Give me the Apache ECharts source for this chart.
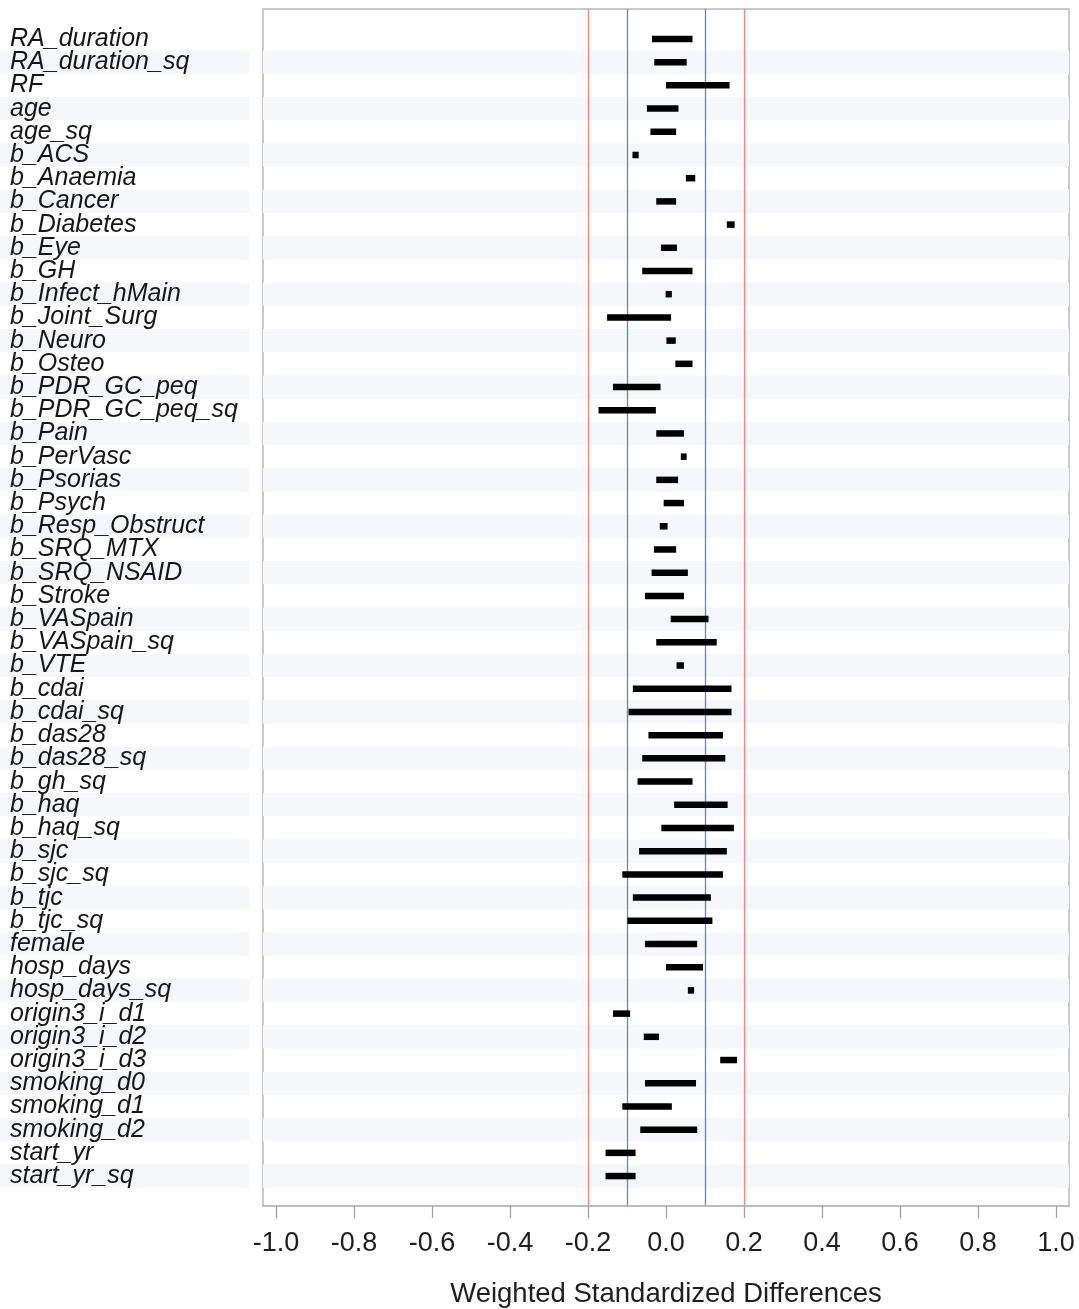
<!DOCTYPE html>
<html>
<head>
<meta charset="utf-8">
<title>Weighted Standardized Differences</title>
<script src="https://cdn.jsdelivr.net/npm/echarts@6/dist/echarts.min.js"></script>
<style>
  html, body { margin: 0; padding: 0; background: #ffffff; }
  #chart { width: 1079px; height: 1309px; }
</style>
</head>
<body>
<div id="chart"></div>
<script>
// Covariates, one row each (top to bottom)
const categories = [
  'RA_duration', 'RA_duration_sq', 'RF', 'age', 'age_sq', 'b_ACS', 'b_Anaemia',
  'b_Cancer', 'b_Diabetes', 'b_Eye', 'b_GH', 'b_Infect_hMain', 'b_Joint_Surg',
  'b_Neuro', 'b_Osteo', 'b_PDR_GC_peq', 'b_PDR_GC_peq_sq', 'b_Pain', 'b_PerVasc',
  'b_Psorias', 'b_Psych', 'b_Resp_Obstruct', 'b_SRQ_MTX', 'b_SRQ_NSAID', 'b_Stroke',
  'b_VASpain', 'b_VASpain_sq', 'b_VTE', 'b_cdai', 'b_cdai_sq', 'b_das28',
  'b_das28_sq', 'b_gh_sq', 'b_haq', 'b_haq_sq', 'b_sjc', 'b_sjc_sq', 'b_tjc',
  'b_tjc_sq', 'female', 'hosp_days', 'hosp_days_sq', 'origin3_i_d1',
  'origin3_i_d2', 'origin3_i_d3', 'smoking_d0', 'smoking_d1', 'smoking_d2',
  'start_yr', 'start_yr_sq'
];

// Lower end of each range of weighted standardized differences
const lowValues = [
  -0.036, -0.030, 0.000, -0.049, -0.040, -0.086, 0.051,
  -0.025, 0.156, -0.013, -0.061, -0.001, -0.151,
  0.001, 0.024, -0.136, -0.173, -0.025, 0.038,
  -0.025, -0.006, -0.016, -0.031, -0.037, -0.054,
  0.012, -0.025, 0.027, -0.085, -0.096, -0.045,
  -0.061, -0.073, 0.021, -0.012, -0.069, -0.112, -0.085,
  -0.099, -0.054, 0.000, 0.056, -0.136,
  -0.057, 0.139, -0.054, -0.112, -0.066,
  -0.155, -0.155
];

// Upper end of each range
const highValues = [
  0.068, 0.053, 0.163, 0.032, 0.026, -0.070, 0.075,
  0.026, 0.176, 0.028, 0.068, 0.015, 0.013,
  0.025, 0.068, -0.014, -0.026, 0.046, 0.053,
  0.031, 0.046, 0.004, 0.026, 0.056, 0.046,
  0.109, 0.130, 0.046, 0.168, 0.168, 0.146,
  0.152, 0.068, 0.158, 0.174, 0.156, 0.146, 0.115,
  0.119, 0.080, 0.095, 0.072, -0.092,
  -0.018, 0.182, 0.077, 0.015, 0.080,
  -0.078, -0.078
];

// Tick labels on the x axis
const xTicks = [-1.0, -0.8, -0.6, -0.4, -0.2, 0.0, 0.2, 0.4, 0.6, 0.8, 1.0];

// Threshold reference lines
const redLines = [-0.2, 0.2];
const blueLines = [-0.1, 0.1];

const rowIndex = categories.map((_, i) => i);
const rangeData = categories.map((c, i) => [lowValues[i], highValues[i], i]);
const bandData = rowIndex.filter(i => i % 2 === 1).map(i => [i]);
const labelData = rowIndex.map(i => [i]);

const X_PAD = 1 / 30;
const Y_PAD = 1.29;
const LABEL_X = 10;

const chart = echarts.init(document.getElementById('chart'), null, { renderer: 'canvas' });

chart.setOption({
  backgroundColor: '#ffffff',
  animation: false,
  grid: {
    left: 263, right: 10, top: 9, bottom: 103,
    outerBoundsMode: 'none',
    containLabel: false,
    show: true, borderColor: '#b8b8b8', borderWidth: 1.5, backgroundColor: 'transparent', z: 0
  },
  xAxis: {
    type: 'value',
    min: -1 - X_PAD,
    max: 1 + X_PAD,
    position: 'bottom',
    z: 6,
    splitLine: { show: false },
    axisLine: { show: true, onZero: false, lineStyle: { color: '#b8b8b8', width: 1.5 } },
    axisTick: { show: true, customValues: xTicks, length: 12, lineStyle: { color: '#a0a0a0', width: 1.3 } },
    axisLabel: {
      customValues: xTicks,
      formatter: v => v.toFixed(1),
      fontFamily: 'Liberation Sans, Arial, sans-serif',
      fontSize: 27,
      color: '#1e1e1e',
      margin: 24
    },
    name: 'Weighted Standardized Differences',
    nameLocation: 'middle',
    nameGap: 74,
    nameTextStyle: {
      fontFamily: 'Liberation Sans, Arial, sans-serif',
      fontSize: 27.5,
      color: '#1e1e1e'
    }
  },
  yAxis: {
    type: 'value',
    inverse: true,
    min: -Y_PAD,
    max: categories.length - 1 + Y_PAD,
    splitLine: { show: false },
    axisLine: { show: false, onZero: false },
    axisTick: { show: false },
    axisLabel: { show: false }
  },
  series: [
    {
      // alternating row shading across the label column and the plot
      type: 'custom',
      z: 1,
      silent: true,
      clip: false,
      data: bandData,
      encode: { y: 0 },
      renderItem: (params, api) => {
        const i = api.value(0);
        const top = api.coord([0, i - 0.5])[1];
        const bottom = api.coord([0, i + 0.5])[1];
        const cs = params.coordSys;
        const style = { fill: '#f6f7fa' };
        return {
          type: 'group',
          children: [
            { type: 'rect', shape: { x: 0, y: top, width: 249, height: bottom - top }, style },
            { type: 'rect', shape: { x: cs.x, y: top, width: cs.width, height: bottom - top }, style }
          ]
        };
      }
    },
    {
      // covariate names in the left column
      type: 'custom',
      z: 6,
      silent: true,
      clip: false,
      data: labelData,
      encode: { y: 0 },
      renderItem: (params, api) => {
        const i = api.value(0);
        const y = api.coord([0, i])[1];
        return {
          type: 'text',
          x: LABEL_X,
          y: y,
          style: {
            text: categories[i],
            fill: '#161616',
            font: 'italic 25px "Liberation Sans", Arial, sans-serif',
            textAlign: 'left',
            textVerticalAlign: 'middle'
          }
        };
      }
    },
    {
      // threshold lines
      type: 'line',
      z: 3,
      data: [],
      silent: true,
      markLine: {
        symbol: 'none',
        silent: true,
        label: { show: false },
        emphasis: { disabled: true },
        data: [
          ...redLines.map(v => ({ xAxis: v, lineStyle: { color: '#f7827a', width: 1.3, type: 'solid', opacity: 1 } })),
          ...blueLines.map(v => ({ xAxis: v, lineStyle: { color: '#4f86f7', width: 1.3, type: 'solid', opacity: 1 } }))
        ]
      }
    },
    {
      // range bars
      type: 'custom',
      z: 5,
      data: rangeData,
      encode: { x: [0, 1], y: 2 },
      renderItem: (params, api) => {
        const a = api.coord([api.value(0), api.value(2)]);
        const b = api.coord([api.value(1), api.value(2)]);
        const h = 6.5;
        return {
          type: 'rect',
          shape: { x: a[0], y: a[1] - h / 2, width: b[0] - a[0], height: h },
          style: { fill: '#000000' }
        };
      }
    }
  ]
});
</script>
</body>
</html>
